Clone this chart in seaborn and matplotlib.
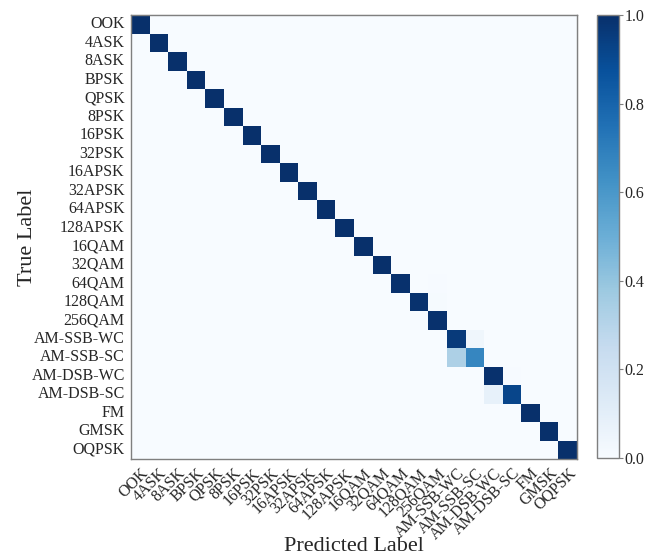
import numpy as np
import matplotlib
matplotlib.use("Agg")
import matplotlib.pyplot as plt
import seaborn as sns

labels = ["OOK", "4ASK", "8ASK", "BPSK", "QPSK", "8PSK", "16PSK", "32PSK",
          "16APSK", "32APSK", "64APSK", "128APSK", "16QAM", "32QAM", "64QAM",
          "128QAM", "256QAM", "AM-SSB-WC", "AM-SSB-SC", "AM-DSB-WC",
          "AM-DSB-SC", "FM", "GMSK", "OQPSK"]

# diagonal accuracy per class
diag_values = [1.0, 1.0, 1.0, 1.0, 1.0, 1.0, 1.0, 1.0, 1.0, 1.0, 1.0, 1.0,
               1.0, 1.0, 0.995, 0.99, 0.995, 0.96, 0.67, 0.995, 0.92,
               1.0, 1.0, 1.0]

# off-diagonal confusions: (true class, predicted class, fraction)
off_true = ["64QAM", "128QAM", "256QAM", "AM-SSB-WC", "AM-SSB-SC", "AM-DSB-WC", "AM-DSB-SC"]
off_pred = ["256QAM", "256QAM", "128QAM", "AM-SSB-SC", "AM-SSB-WC", "AM-DSB-SC", "AM-DSB-WC"]
off_vals = [0.005, 0.01, 0.005, 0.04, 0.33, 0.005, 0.08]

n = len(labels)
cm = np.zeros((n, n))
for i, v in enumerate(diag_values):
    cm[i, i] = v
for t, p, v in zip(off_true, off_pred, off_vals):
    cm[labels.index(t), labels.index(p)] = v

sns.set_style("white")
plt.rcParams["font.family"] = ["Liberation Serif", "DejaVu Serif"]

W, H = 667, 556
fig = plt.figure(figsize=(W / 100, H / 100), dpi=100)
ax = fig.add_axes([131 / W, 1 - 459 / H, 446 / W, 444 / H])
cax = fig.add_axes([597 / W, 1 - 458 / H, 22 / W, 443 / H])

sns.heatmap(cm, cmap="Blues", vmin=0, vmax=1, ax=ax, cbar_ax=cax,
            xticklabels=labels, yticklabels=labels)

grey = "#7f7f7f"
for s in ax.spines.values():
    s.set_visible(True)
    s.set_color(grey)
    s.set_linewidth(1.0)

fs = 11.5
ax.tick_params(axis="both", which="major", direction="out", length=3.5,
               width=0.8, color=grey, labelsize=fs, pad=1)
ax.set_xticklabels(labels, rotation=45, ha="right", rotation_mode="anchor",
                   fontsize=fs)
ax.set_yticklabels(labels, rotation=0, fontsize=fs)

ticks = np.arange(n) + 0.5
secx = ax.secondary_xaxis("top")
secx.set_xticks(ticks)
secx.tick_params(direction="in", length=3.5, width=0.8, color=grey, labeltop=False)
secx.spines["top"].set_color(grey)
secy = ax.secondary_yaxis("right")
secy.set_yticks(ticks)
secy.tick_params(direction="in", length=3.5, width=0.8, color=grey, labelright=False)
secy.spines["right"].set_color(grey)

ax.set_xlabel("Predicted Label", fontsize=16, va="baseline")
ax.xaxis.set_label_coords(0.5, -(551 - 459) / 444)
ax.set_ylabel("True Label", fontsize=16)
ax.yaxis.set_label_coords(-(131 - 37) / 446, 0.5)

cbar = ax.collections[0].colorbar
cbar.set_ticks([0.0, 0.2, 0.4, 0.6, 0.8, 1.0])
cbar.ax.tick_params(labelsize=fs, length=3, color=grey, width=0.8, pad=1)
cbar.outline.set_edgecolor(grey)
cbar.outline.set_linewidth(1.0)

fig.savefig("out.png", dpi=100)
